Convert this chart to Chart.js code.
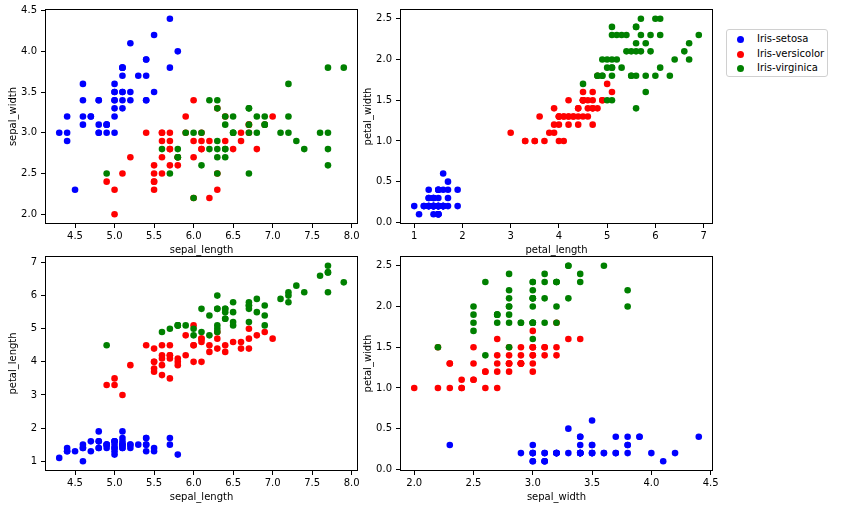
<!DOCTYPE html>
<html>
<head>
<meta charset="utf-8">
<script src="https://cdn.jsdelivr.net/npm/chart.js@4"></script>
<style>
  html, body { margin: 0; padding: 0; background: #fff; }
  body { width: 846px; height: 510px; position: relative; overflow: hidden; font-family: "DejaVu Sans", sans-serif; }
  .panel { position: absolute; width: 372px; height: 260px; }
  #legend { position: absolute; left: 726px; top: 29px; width: 100px; height: 46px; border: 1px solid #d0d0d0; border-radius: 3px; background: #fff; }
  .row { position: absolute; left: 0; height: 14px; font-size: 10px; line-height: 14px; color: #000; }
  .dot { position: absolute; left: 10px; top: 4px; width: 7px; height: 7px; border-radius: 50%; }
  .lbl { position: absolute; left: 30px; top: 0; white-space: nowrap; }
</style>
</head>
<body>
<div class="panel" style="left:0;top:0"><canvas id="c1"></canvas></div>
<div class="panel" style="left:355px;top:0"><canvas id="c2"></canvas></div>
<div class="panel" style="left:0;top:247px"><canvas id="c3"></canvas></div>
<div class="panel" style="left:355px;top:247px"><canvas id="c4"></canvas></div>
<div id="legend"></div>

<script>
// ---------- data (iris, 50 rows per species) ----------
const speciesNames = ["Iris-setosa", "Iris-versicolor", "Iris-virginica"];
const speciesColors = ["#0000ff", "#ff0000", "#008000"];
const speciesCount = 50;

const sepalLength = [
  5.1,4.9,4.7,4.6,5.0,5.4,4.6,5.0,4.4,4.9,5.4,4.8,4.8,4.3,5.8,5.7,5.4,5.1,5.7,5.1,5.4,5.1,4.6,5.1,4.8,
  5.0,5.0,5.2,5.2,4.7,4.8,5.4,5.2,5.5,4.9,5.0,5.5,4.9,4.4,5.1,5.0,4.5,4.4,5.0,5.1,4.8,5.1,4.6,5.3,5.0,
  7.0,6.4,6.9,5.5,6.5,5.7,6.3,4.9,6.6,5.2,5.0,5.9,6.0,6.1,5.6,6.7,5.6,5.8,6.2,5.6,5.9,6.1,6.3,6.1,6.4,
  6.6,6.8,6.7,6.0,5.7,5.5,5.5,5.8,6.0,5.4,6.0,6.7,6.3,5.6,5.5,5.5,6.1,5.8,5.0,5.6,5.7,5.7,6.2,5.1,5.7,
  6.3,5.8,7.1,6.3,6.5,7.6,4.9,7.3,6.7,7.2,6.5,6.4,6.8,5.7,5.8,6.4,6.5,7.7,7.7,6.0,6.9,5.6,7.7,6.3,6.7,
  7.2,6.2,6.1,6.4,7.2,7.4,7.9,6.4,6.3,6.1,7.7,6.3,6.4,6.0,6.9,6.7,6.9,5.8,6.8,6.7,6.7,6.3,6.5,6.2,5.9
];
const sepalWidth = [
  3.5,3.0,3.2,3.1,3.6,3.9,3.4,3.4,2.9,3.1,3.7,3.4,3.0,3.0,4.0,4.4,3.9,3.5,3.8,3.8,3.4,3.7,3.6,3.3,3.4,
  3.0,3.4,3.5,3.4,3.2,3.1,3.4,4.1,4.2,3.1,3.2,3.5,3.1,3.0,3.4,3.5,2.3,3.2,3.5,3.8,3.0,3.8,3.2,3.7,3.3,
  3.2,3.2,3.1,2.3,2.8,2.8,3.3,2.4,2.9,2.7,2.0,3.0,2.2,2.9,2.9,3.1,3.0,2.7,2.2,2.5,3.2,2.8,2.5,2.8,2.9,
  3.0,2.8,3.0,2.9,2.6,2.4,2.4,2.7,2.7,3.0,3.4,3.1,2.3,3.0,2.5,2.6,3.0,2.6,2.3,2.7,3.0,2.9,2.9,2.5,2.8,
  3.3,2.7,3.0,2.9,3.0,3.0,2.5,2.9,2.5,3.6,3.2,2.7,3.0,2.5,2.8,3.2,3.0,3.8,2.6,2.2,3.2,2.8,2.8,2.7,3.3,
  3.2,2.8,3.0,2.8,3.0,2.8,3.8,2.8,2.8,2.6,3.0,3.4,3.1,3.0,3.1,3.1,3.1,2.7,3.2,3.3,3.0,2.5,3.0,3.4,3.0
];
const petalLength = [
  1.4,1.4,1.3,1.5,1.4,1.7,1.4,1.5,1.4,1.5,1.5,1.6,1.4,1.1,1.2,1.5,1.3,1.4,1.7,1.5,1.7,1.5,1.0,1.7,1.9,
  1.6,1.6,1.5,1.4,1.6,1.6,1.5,1.5,1.4,1.5,1.2,1.3,1.5,1.3,1.5,1.3,1.3,1.3,1.6,1.9,1.4,1.6,1.4,1.5,1.4,
  4.7,4.5,4.9,4.0,4.6,4.5,4.7,3.3,4.6,3.9,3.5,4.2,4.0,4.7,3.6,4.4,4.5,4.1,4.5,3.9,4.8,4.0,4.9,4.7,4.3,
  4.4,4.8,5.0,4.5,3.5,3.8,3.7,3.9,5.1,4.5,4.5,4.7,4.4,4.1,4.0,4.4,4.6,4.0,3.3,4.2,4.2,4.2,4.3,3.0,4.1,
  6.0,5.1,5.9,5.6,5.8,6.6,4.5,6.3,5.8,6.1,5.1,5.3,5.5,5.0,5.1,5.3,5.5,6.7,6.9,5.0,5.7,4.9,6.7,4.9,5.7,
  6.0,4.8,4.9,5.6,5.8,6.1,6.4,5.6,5.1,5.6,6.1,5.6,5.5,4.8,5.4,5.6,5.1,5.1,5.9,5.7,5.2,5.0,5.2,5.4,5.1
];
const petalWidth = [
  0.2,0.2,0.2,0.2,0.2,0.4,0.3,0.2,0.2,0.1,0.2,0.2,0.1,0.1,0.2,0.4,0.4,0.3,0.3,0.3,0.2,0.4,0.2,0.5,0.2,
  0.2,0.4,0.2,0.2,0.2,0.2,0.4,0.1,0.2,0.1,0.2,0.2,0.1,0.2,0.2,0.3,0.3,0.2,0.6,0.4,0.3,0.2,0.2,0.2,0.2,
  1.4,1.5,1.5,1.3,1.5,1.3,1.6,1.0,1.3,1.4,1.0,1.5,1.0,1.4,1.3,1.4,1.5,1.0,1.5,1.1,1.8,1.3,1.5,1.2,1.3,
  1.4,1.4,1.7,1.5,1.0,1.1,1.0,1.2,1.6,1.5,1.6,1.5,1.3,1.3,1.3,1.2,1.4,1.2,1.0,1.3,1.2,1.3,1.3,1.1,1.3,
  2.5,1.9,2.1,1.8,2.2,2.1,1.7,1.8,1.8,2.5,2.0,1.9,2.1,2.0,2.4,2.3,1.8,2.2,2.3,1.5,2.3,2.0,2.0,1.8,2.1,
  1.8,1.8,1.8,2.1,1.6,1.9,2.0,2.2,1.5,1.4,2.3,2.4,1.8,1.8,2.1,2.4,2.3,1.9,2.3,2.5,2.3,1.9,2.0,2.3,1.8
];

// tick labels per measure
const sepalLengthTicks = [4.5, 5.0, 5.5, 6.0, 6.5, 7.0, 7.5, 8.0];
const sepalWidthTicks = [2.0, 2.5, 3.0, 3.5, 4.0, 4.5];
const petalLengthTicks = [1, 2, 3, 4, 5, 6, 7];
const petalWidthTicks = [0.0, 0.5, 1.0, 1.5, 2.0, 2.5];

const measures = {
  sepal_length: { values: sepalLength, ticks: sepalLengthTicks, digits: 1 },
  sepal_width: { values: sepalWidth, ticks: sepalWidthTicks, digits: 1 },
  petal_length: { values: petalLength, ticks: petalLengthTicks, digits: 0 },
  petal_width: { values: petalWidth, ticks: petalWidthTicks, digits: 1 }
};

Chart.defaults.font.family = "'DejaVu Sans', sans-serif";
Chart.defaults.font.size = 10;
Chart.defaults.color = "#000";

// matplotlib style frame around the axes
const framePlugin = {
  id: "frame",
  afterDraw(chart) {
    const a = chart.chartArea;
    const c = chart.ctx;
    c.save();
    c.strokeStyle = "#000";
    c.lineWidth = 1;
    c.strokeRect(Math.round(a.left) + 0.5, Math.round(a.top) + 0.5,
                 Math.round(a.right - a.left) - 1, Math.round(a.bottom - a.top) - 1);
    c.restore();
  }
};

function limits(values) {
  const lo = Math.min(...values), hi = Math.max(...values);
  const m = (hi - lo) * 0.05;
  return [lo - m, hi + m];
}

function axis(name, horizontal) {
  const info = measures[name];
  const [mn, mx] = limits(info.values);
  return {
    type: "linear",
    position: horizontal ? "bottom" : "left",
    min: mn,
    max: mx,
    afterBuildTicks: (scale) => {
      scale.ticks = info.ticks.map(v => ({ value: v }));
    },
    afterFit: (scale) => {
      if (horizontal) scale.height = 36;
      else scale.width = 45;
      // no extra room for edge labels, keep the plot box fixed
      scale.paddingTop = 0;
      scale.paddingBottom = 0;
      scale.paddingLeft = 0;
      scale.paddingRight = 0;
    },
    border: { display: false },
    grid: { drawOnChartArea: false, drawTicks: true, tickLength: 4, color: "#000", tickColor: "#000" },
    ticks: {
      padding: horizontal ? 2 : 4,
      color: "#000",
      maxRotation: 0,
      autoSkip: false,
      callback: (v) => Number(v).toFixed(info.digits)
    },
    title: {
      display: true,
      text: name,
      color: "#000",
      padding: horizontal ? { top: 0, bottom: 4 } : { top: 7, bottom: 0 }
    }
  };
}

function makePanel(id, xName, yName) {
  const xs = measures[xName].values;
  const ys = measures[yName].values;
  const datasets = speciesNames.map((name, s) => {
    const pts = [];
    for (let i = s * speciesCount; i < (s + 1) * speciesCount; i++) {
      pts.push({ x: xs[i], y: ys[i] });
    }
    return {
      label: name,
      data: pts,
      backgroundColor: speciesColors[s],
      pointRadius: 3.3,
      pointBorderWidth: 0,
      order: speciesNames.length - s
    };
  });

  new Chart(document.getElementById(id), {
    type: "scatter",
    data: { datasets },
    options: {
      responsive: true,
      maintainAspectRatio: false,
      animation: false,
      events: [],
      layout: { padding: { top: 9, right: 14, left: 0, bottom: 0 }, autoPadding: false },
      plugins: { legend: { display: false }, tooltip: { enabled: false } },
      scales: { x: axis(xName, true), y: axis(yName, false) }
    },
    plugins: [framePlugin]
  });
}

makePanel("c1", "sepal_length", "sepal_width");
makePanel("c2", "petal_length", "petal_width");
makePanel("c3", "sepal_length", "petal_length");
makePanel("c4", "sepal_width", "petal_width");

// legend
const legend = document.getElementById("legend");
speciesNames.forEach((name, s) => {
  const row = document.createElement("div");
  row.className = "row";
  row.style.top = (2 + s * 14.5) + "px";
  row.innerHTML = '<span class="dot" style="background:' + speciesColors[s] + '"></span><span class="lbl">' + name + '</span>';
  legend.appendChild(row);
});
</script>
</body>
</html>
